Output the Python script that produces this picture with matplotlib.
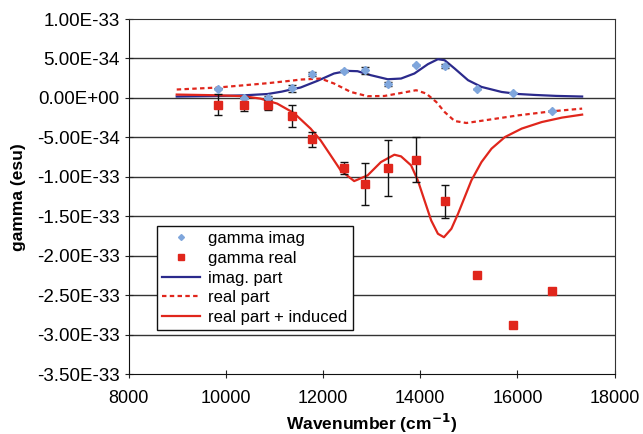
import numpy as np
import matplotlib
matplotlib.use('Agg')
import matplotlib.pyplot as plt
from matplotlib.ticker import FuncFormatter
from matplotlib.lines import Line2D

plt.rcParams['font.family'] = ['Liberation Sans', 'DejaVu Sans']

SCALE = 1e-34

# measured points (values in units of 1e-34 esu)
imag_x = [9835, 10365, 10860, 11365, 11764, 12433, 12867, 13343, 13915, 14515, 15177, 15900, 16707]
imag_y = [1.19, 0.05, 0.05, 1.2, 3.0, 3.4, 3.5, 1.8, 4.15, 4.06, 1.19, 0.68, -1.69]
imag_err = [0.1, 0.1, 0.15, 0.45, 0.27, 0.12, 0.45, 0.25, 0.0, 0.3, 0.0, 0.0, 0.0]

real_x = [9835, 10365, 10860, 11365, 11764, 12433, 12867, 13343, 13915, 14515, 15177, 15900, 16707]
real_y = [-0.84, -0.84, -0.93, -2.32, -5.24, -8.88, -10.87, -8.88, -7.82, -13.07, -22.4, -28.7, -24.4]
real_err = [1.3, 0.78, 0.64, 1.37, 0.95, 0.74, 2.64, 3.5, 2.85, 2.1, 0.0, 0.0, 0.0]

# model curves
imag_part_x = [8990, 9835, 10365, 10860, 11150, 11365, 11537, 11882, 12226, 12502, 12709, 12985, 13330,
               13605, 13880, 14157, 14363, 14501, 14707, 14983, 15259, 15673, 16019, 16362, 16800, 17330]
imag_part_y = [0.18, 0.25, 0.33, 0.5, 0.8, 1.1, 1.32, 2.16, 3.1, 3.43, 3.39, 2.88, 2.37,
               2.46, 3.1, 4.28, 4.91, 4.78, 3.73, 2.25, 1.4, 0.76, 0.5, 0.38, 0.26, 0.18]

real_part_x = [8990, 9835, 10860, 11365, 11537, 11950, 12226, 12571, 12916, 13260, 13605, 13915,
               14122, 14328, 14501, 14707, 14949, 15328, 16019, 16707, 17330]
real_part_y = [1.07, 1.32, 1.87, 2.2, 2.33, 2.46, 1.83, 0.76, 0.22, 0.25, 0.63, 0.98,
               0.56, -0.5, -1.78, -2.92, -3.17, -2.83, -2.2, -1.69, -1.35]

induced_x = [8990, 9835, 10365, 10709, 11055, 11399, 11744, 11950, 12157, 12364, 12640, 12916,
             13191, 13467, 13605, 13812, 13950, 14087, 14225, 14363, 14487, 14640, 14777, 14914,
             15052, 15259, 15466, 15742, 16087, 16500, 16914, 17330]
induced_y = [0.43, 0.34, 0.22, -0.08, -0.71, -1.9, -3.88, -5.37, -7.27, -9.18, -10.53, -9.81,
             -8.12, -7.19, -7.4, -8.54, -10.44, -12.98, -15.52, -17.2, -17.64, -16.57, -14.67, -12.56,
             -10.44, -8.12, -6.42, -4.95, -3.88, -3.05, -2.49, -2.11]

legend_labels = ['gamma imag', 'gamma real', 'imag. part', 'real part', 'real part + induced']

BLUE_LINE = '#2B2A8C'
BLUE_PT = '#7FA6DC'
RED = '#E0261C'
DASH = (0, (2, 1.5))


def scaled(vals):
    return np.array(vals) * SCALE


fig = plt.figure(figsize=(6.43, 4.34), dpi=100)
ax = fig.add_axes([0.2, 0.1376, 0.756, 0.8186])

# horizontal gridlines like the Excel original
for y in np.arange(-3.0e-33, 1.0e-33, 5e-34):
    ax.axhline(y, color='#333333', lw=1.0, zorder=0)

ax.plot(imag_part_x, scaled(imag_part_y), color=BLUE_LINE, lw=1.6, zorder=2)
ax.plot(real_part_x, scaled(real_part_y), color=RED, lw=1.6, ls=DASH, zorder=2)
ax.plot(induced_x, scaled(induced_y), color=RED, lw=1.6, zorder=2)

ax.errorbar(imag_x, scaled(imag_y), yerr=scaled(imag_err), fmt='D', ms=4, color=BLUE_PT,
            ecolor='#222222', elinewidth=1, capsize=3, zorder=3)
ax.errorbar(real_x, scaled(real_y), yerr=scaled(real_err), fmt='s', ms=5.5, color=RED,
            ecolor='#111111', elinewidth=1, capsize=3, zorder=3)

ax.set_xlim(8000, 18000)
ax.set_ylim(-3.5e-33, 1.0e-33)
ax.set_xticks(np.arange(8000, 18001, 2000))
ax.set_yticks(np.arange(-3.5e-33, 1.01e-33, 5e-34))
ax.yaxis.set_major_formatter(FuncFormatter(lambda v, p: '{:.2E}'.format(0 if abs(v) < 1e-40 else v)))
ax.tick_params(axis='both', direction='inout', length=6, color='#222222')
ax.tick_params(axis='x', pad=8, labelsize=13)
ax.tick_params(axis='y', labelsize=13.5)
for s in ax.spines.values():
    s.set_color('#333333')
ax.spines['left'].set_color('#111111')
ax.spines['bottom'].set_color('#111111')

ax.set_xlabel('Wavenumber (cm$^{\\mathbf{-1}}$)', fontsize=12.5, fontweight='bold', labelpad=4)
ax.set_ylabel('gamma (esu)', fontsize=12.5, fontweight='bold', labelpad=8)

leg_handles = [
    Line2D([], [], marker='D', ms=3, color=BLUE_PT, ls='none'),
    Line2D([], [], marker='s', ms=4.5, color=RED, ls='none'),
    Line2D([], [], color=BLUE_LINE, lw=1.6),
    Line2D([], [], color=RED, lw=1.6, ls=DASH),
    Line2D([], [], color=RED, lw=1.6),
]
leg = ax.legend(leg_handles, legend_labels, loc='lower left',
                bbox_to_anchor=(0.058, 0.125), fontsize=12, frameon=True, fancybox=False,
                edgecolor='#111111', framealpha=1, borderpad=0.3, labelspacing=0.28,
                handlelength=2.3, handletextpad=0.5, borderaxespad=0)
leg.get_frame().set_linewidth(1.0)

fig.savefig('out.png', dpi=100)
